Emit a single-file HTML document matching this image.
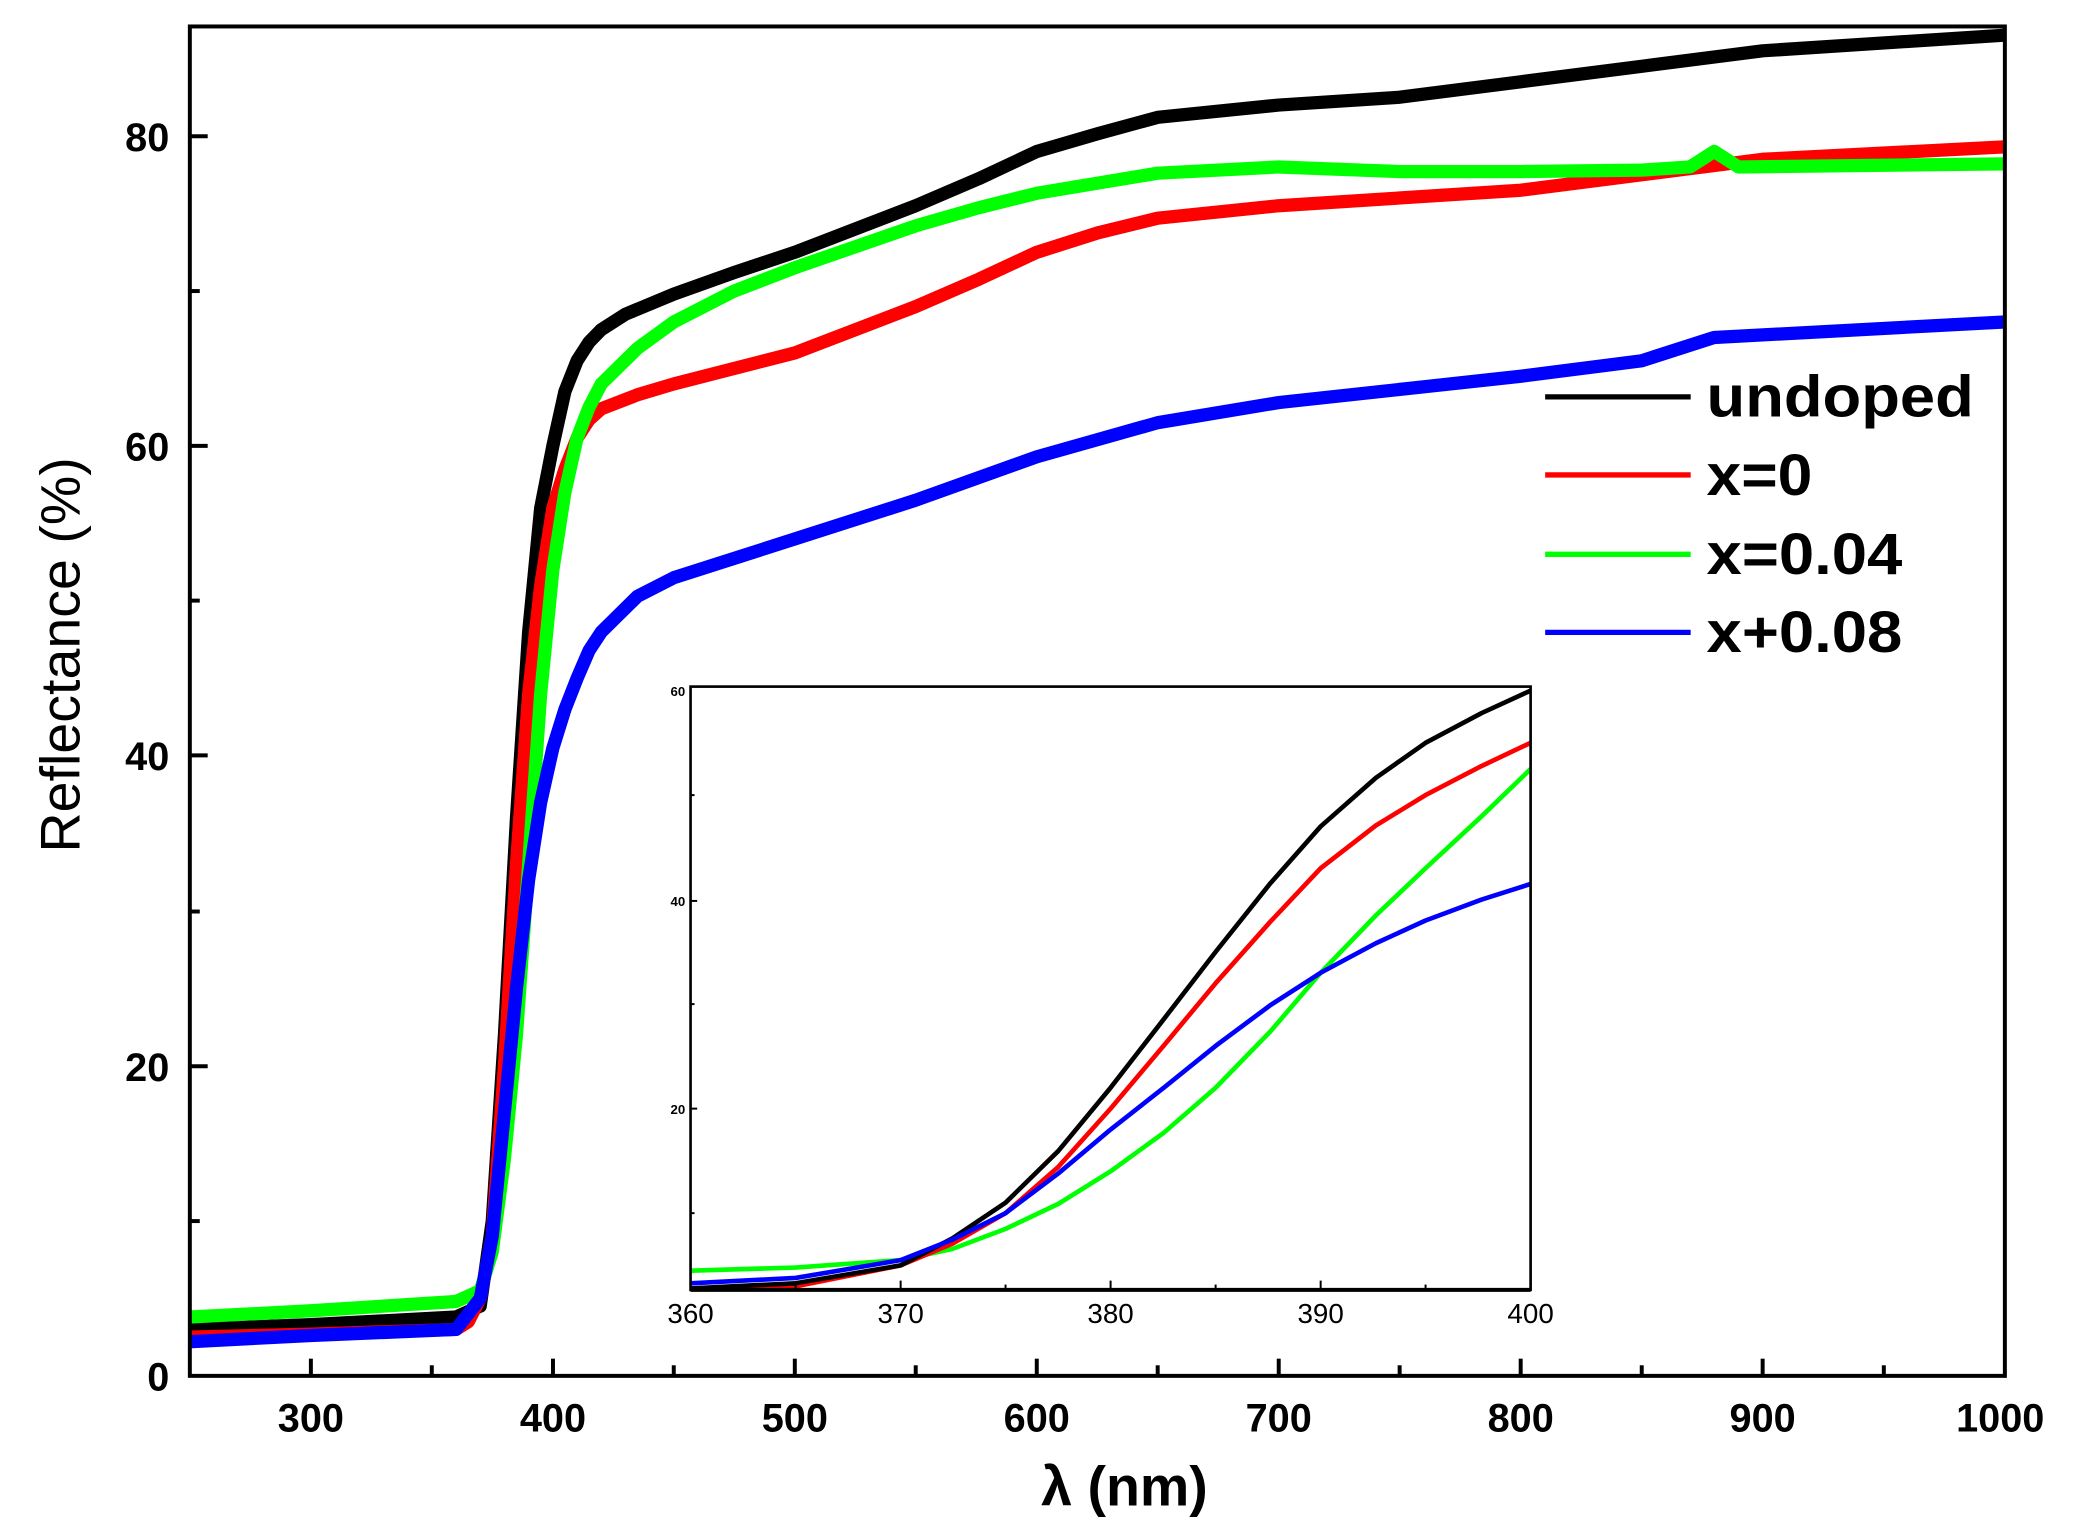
<!DOCTYPE html>
<html><head><meta charset="utf-8"><style>
html,body{margin:0;padding:0;background:#fff;}
svg{display:block;}
text{font-family:"Liberation Sans",Arial,sans-serif;}
</style></head><body>
<svg width="2073" height="1528" viewBox="0 0 1567 1155" preserveAspectRatio="none" xmlns="http://www.w3.org/2000/svg">
<defs><clipPath id="c"><rect x="143.5" y="20" width="1372" height="1020"/></clipPath>
<clipPath id="ci"><rect x="522" y="519" width="635" height="456"/></clipPath></defs>
<rect width="1567" height="1155" fill="#fff"/>
<g clip-path="url(#c)" fill="none" stroke-width="10" stroke-linejoin="round" stroke-linecap="butt">
<polyline stroke="#000" points="143.5,1004.9 235,1001.3 344.7,995.5 363,987.3 372.1,922.9 381.3,782.3 390.4,618.3 399.6,477.7 408.7,384 417.9,337.1 427,296 436.2,272.7 445.3,258.6 454.5,249.2 472.8,237.5 509.3,222.3 555,206 600.8,190.7 692.2,155.5 740,135 783.7,114.5 830,101 875.1,88.7 966.6,79.4 1058,73.5 1149.5,61.8 1240.9,50.1 1332.4,38.4 1515.2,26.6"/>
<polyline stroke="#ff0000" points="143.5,1010.7 235,1008.4 344.7,1004.9 354,999 363,981.4 372.1,934.6 381.3,805.7 390.4,653.4 399.6,524.5 408.7,442.5 417.9,384 427,354.7 436.2,331.2 445.3,317.2 454.5,309 481.9,298.4 509.3,290.2 600.8,266.8 692.2,231.7 740,211 783.7,190.7 830,176 875.1,164.9 966.6,155.5 1149.5,143.8 1332.4,120.4 1515.2,111"/>
<polyline stroke="#00ff00" points="143.5,995.5 235,990.8 344.7,983.8 363,975.6 372.1,946.3 381.3,876 390.4,782.3 399.6,653.4 408.7,524.5 417.9,430.8 427,372.2 436.2,331.2 445.3,307.8 454.5,290.2 481.9,263.3 509.3,243.4 555,220 600.8,202.4 692.2,170.7 740,157 783.7,146.1 875.1,130.9 966.6,126.2 1058,129.7 1149.5,129.7 1240.9,128.6 1277.5,126.2 1295.8,114.5 1314.1,126.2 1515.2,123.9"/>
<polyline stroke="#0000ff" points="143.5,1014.2 235,1009.5 344.7,1004.9 363,981.4 372.1,934.6 381.3,840.8 390.4,747.1 399.6,665.1 408.7,606.5 417.9,565.5 427,536.3 436.2,512.8 445.3,491.7 454.5,477.7 481.9,450.7 509.3,436.7 600.8,407.4 692.2,378.1 783.7,345.3 875.1,319.5 966.6,304.3 1149.5,284.4 1240.9,272.7 1295.8,255.1 1515.2,243.4"/>
</g>
<rect x="143.5" y="20" width="1372" height="1020" fill="none" stroke="#000" stroke-width="3"/>
<g stroke="#000" stroke-width="3">
<line x1="143.5" y1="103" x2="157" y2="103"/><line x1="143.5" y1="337" x2="157" y2="337"/><line x1="143.5" y1="571" x2="157" y2="571"/><line x1="143.5" y1="806" x2="157" y2="806"/>
<line x1="143.5" y1="220" x2="151" y2="220"/><line x1="143.5" y1="454" x2="151" y2="454"/><line x1="143.5" y1="689" x2="151" y2="689"/><line x1="143.5" y1="923" x2="151" y2="923"/>
<line x1="235" y1="1040" x2="235" y2="1027"/><line x1="418" y1="1040" x2="418" y2="1027"/><line x1="600.8" y1="1040" x2="600.8" y2="1027"/><line x1="783.7" y1="1040" x2="783.7" y2="1027"/><line x1="966.6" y1="1040" x2="966.6" y2="1027"/><line x1="1149.5" y1="1040" x2="1149.5" y2="1027"/><line x1="1332.4" y1="1040" x2="1332.4" y2="1027"/>
<line x1="326.4" y1="1040" x2="326.4" y2="1032"/><line x1="509.3" y1="1040" x2="509.3" y2="1032"/><line x1="692.2" y1="1040" x2="692.2" y2="1032"/><line x1="875.1" y1="1040" x2="875.1" y2="1032"/><line x1="1058" y1="1040" x2="1058" y2="1032"/><line x1="1241" y1="1040" x2="1241" y2="1032"/><line x1="1424" y1="1040" x2="1424" y2="1032"/>
</g>
<g font-size="30" font-weight="bold" text-anchor="end">
<text x="128" y="114">80</text><text x="128" y="348">60</text><text x="128" y="582">40</text><text x="128" y="817">20</text><text x="128" y="1051">0</text>
</g>
<g font-size="30" font-weight="bold" text-anchor="middle">
<text x="235" y="1082">300</text><text x="418" y="1082">400</text><text x="600.8" y="1082">500</text><text x="783.7" y="1082">600</text><text x="966.6" y="1082">700</text><text x="1149.5" y="1082">800</text><text x="1332.4" y="1082">900</text><text x="1512" y="1082">1000</text>
</g>
<text x="850" y="1138" font-size="42" font-weight="bold" text-anchor="middle">λ (nm)</text>
<text transform="translate(60,495) rotate(-90)" font-size="42" text-anchor="middle">Reflectance (%)</text>
<g stroke-width="4">
<line x1="1168" y1="300" x2="1278" y2="300" stroke="#000"/>
<line x1="1168" y1="359" x2="1278" y2="359" stroke="#ff0000"/>
<line x1="1168" y1="419" x2="1278" y2="419" stroke="#00ff00"/>
<line x1="1168" y1="478" x2="1278" y2="478" stroke="#0000ff"/>
</g>
<g font-size="44" font-weight="bold">
<text x="1290" y="315" textLength="202" lengthAdjust="spacingAndGlyphs">undoped</text>
<text x="1290" y="374" textLength="80" lengthAdjust="spacingAndGlyphs">x=0</text>
<text x="1290" y="434" textLength="148" lengthAdjust="spacingAndGlyphs">x=0.04</text>
<text x="1290" y="493" textLength="148" lengthAdjust="spacingAndGlyphs">x+0.08</text>
</g>
<rect x="522" y="519" width="635" height="456" fill="#fff"/>
<g clip-path="url(#ci)" fill="none" stroke-width="3.5" stroke-linejoin="round">
<polyline stroke="#00ff00" points="522,960.5 601.4,958.1 680.8,952.5 720,944 760.1,928.9 800,910 839.5,885.4 880,856 918.9,822.2 960,780 998.3,735.3 1040,692 1077.6,656.3 1120,617 1157,581.3"/>
<polyline stroke="#ff0000" points="522,976.3 601.4,972.3 680.8,956.5 720,940 760.1,917 800,882 839.5,838 880,790 918.9,743.2 960,697 998.3,656.3 1040,624 1077.6,601 1120,579 1157,561.5"/>
<polyline stroke="#000" points="522,973.9 601.4,970 680.8,956.5 720,936 760.1,909.1 800,870 839.5,822.2 880,770 918.9,719.5 960,668 998.3,624.7 1040,588 1077.6,561.5 1120,539 1157,522"/>
<polyline stroke="#0000ff" points="522,970 601.4,966 680.8,952.5 720,937 760.1,917 800,887 839.5,853.8 880,822 918.9,790.6 960,760 998.3,735.3 1040,713 1077.6,695.8 1120,680 1157,668.2"/>
</g>
<rect x="522" y="519" width="635" height="456" fill="none" stroke="#000" stroke-width="2"/>
<line x1="522" y1="975" x2="1157" y2="975" stroke="#000" stroke-width="3"/>
<g stroke="#000" stroke-width="1.5">
<line x1="680.8" y1="975" x2="680.8" y2="968"/><line x1="839.5" y1="975" x2="839.5" y2="968"/><line x1="998.3" y1="975" x2="998.3" y2="968"/>
<line x1="601.4" y1="975" x2="601.4" y2="971"/><line x1="760.1" y1="975" x2="760.1" y2="971"/><line x1="918.9" y1="975" x2="918.9" y2="971"/><line x1="1077.6" y1="975" x2="1077.6" y2="971"/>
<line x1="522" y1="681" x2="527" y2="681"/><line x1="522" y1="838" x2="527" y2="838"/><line x1="522" y1="601" x2="525" y2="601"/><line x1="522" y1="759" x2="525" y2="759"/><line x1="522" y1="917" x2="525" y2="917"/>
</g>
<g font-size="10" font-weight="bold" text-anchor="end">
<text x="518" y="526">60</text><text x="518" y="685">40</text><text x="518" y="842">20</text>
</g>
<g font-size="21" text-anchor="middle">
<text x="522" y="1000">360</text><text x="680.8" y="1000">370</text><text x="839.5" y="1000">380</text><text x="998.3" y="1000">390</text><text x="1157" y="1000">400</text>
</g>
</svg>
</body></html>
